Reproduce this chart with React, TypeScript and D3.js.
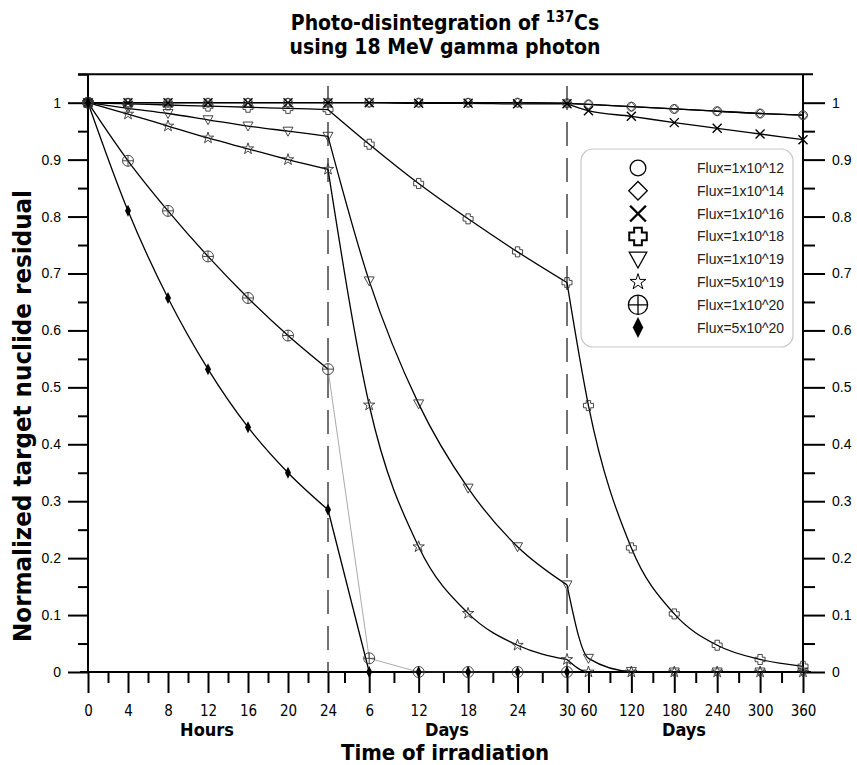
import React, { useRef, useEffect } from "react";
import * as d3 from "d3";

// x positions of the three axis pieces
const hourTicks = [0, 4, 8, 12, 16, 20, 24];
const dayTicks = [6, 12, 18, 24, 30];
const longDayTicks = [60, 120, 180, 240, 300, 360];
const hourMinor = [2, 6, 10, 14, 18, 22];
const dayMinor = [3, 9, 15, 21, 27];
const longDayMinor = [90, 150, 210, 270, 330];

const yMajor = [0, 0.1, 0.2, 0.3, 0.4, 0.5, 0.6, 0.7, 0.8, 0.9, 1];
const yMinor = [0.05, 0.15, 0.25, 0.35, 0.45, 0.55, 0.65, 0.75, 0.85, 0.95, 1.05];

const seriesNames = [
  "Flux=1x10^12",
  "Flux=1x10^14",
  "Flux=1x10^16",
  "Flux=1x10^18",
  "Flux=1x10^19",
  "Flux=5x10^19",
  "Flux=1x10^20",
  "Flux=5x10^20",
];
const symbols = ["circle", "diamond", "x", "cross", "triangle", "star", "circleplus", "filled"];

// values: hours 0..24, days 6..30, days 60..360
const f12Hours = [1, 1, 1, 1, 1, 1, 1];
const f12Days = [1, 1, 1, 1, 0.999];
const f12Long = [0.997, 0.993, 0.989, 0.985, 0.981, 0.978];

const f14Hours = [1, 1, 1, 1, 1, 1, 1];
const f14Days = [1, 1, 1, 1, 0.999];
const f14Long = [0.997, 0.993, 0.989, 0.985, 0.981, 0.978];

const f16Hours = [1, 1, 1, 1, 1, 1, 1];
const f16Days = [1, 0.999, 0.999, 0.998, 0.998];
const f16Long = [0.986, 0.976, 0.965, 0.955, 0.945, 0.935];

const f18Hours = [1, 0.998, 0.996, 0.994, 0.992, 0.99, 0.988];
const f18Days = [0.927, 0.858, 0.796, 0.738, 0.684];
const f18Long = [0.468, 0.218, 0.102, 0.047, 0.022, 0.01];

const f19Hours = [1, 0.99, 0.981, 0.97, 0.959, 0.95, 0.941];
const f19Days = [0.687, 0.471, 0.323, 0.22, 0.153];
const f19Long = [0.024, 0.001, 0, 0, 0, 0];

const f5e19Hours = [1, 0.98, 0.959, 0.938, 0.919, 0.9, 0.883];
const f5e19Days = [0.469, 0.22, 0.103, 0.047, 0.022];
const f5e19Long = [0, 0, 0, 0, 0, 0];

const f20Hours = [1, 0.898, 0.81, 0.73, 0.657, 0.591, 0.532];
const f20Days = [0.024, 0, 0, 0, 0];

const f5e20Hours = [1, 0.81, 0.657, 0.532, 0.43, 0.35, 0.285];
const f5e20Days = [0, 0, 0, 0, 0];

const allHours = [f12Hours, f14Hours, f16Hours, f18Hours, f19Hours, f5e19Hours, f20Hours, f5e20Hours];
const allDays = [f12Days, f14Days, f16Days, f18Days, f19Days, f5e19Days, f20Days, f5e20Days];
const allLong = [f12Long, f14Long, f16Long, f18Long, f19Long, f5e19Long, null, null];

const hourLabel = (t) => {
  if (t <= 24) return String(t);
  return String(t / 24);
};

const markerPath = (sym, s) => {
  switch (sym) {
    case "diamond":
      return `M0,${-4.6 * s}L${4.6 * s},0L0,${4.6 * s}L${-4.6 * s},0Z`;
    case "x":
      return `M${-4.5 * s},${-4.5 * s}L${4.5 * s},${4.5 * s}M${-4.5 * s},${4.5 * s}L${4.5 * s},${-4.5 * s}`;
    case "cross": {
      const a = 5 * s, w = 2.2 * s;
      return `M${-w},${-a}L${w},${-a}L${w},${-w}L${a},${-w}L${a},${w}L${w},${w}L${w},${a}L${-w},${a}L${-w},${w}L${-a},${w}L${-a},${-w}L${-w},${-w}Z`;
    }
    case "triangle":
      return `M${-5 * s},${-4 * s}L${5 * s},${-4 * s}L0,${5 * s}Z`;
    case "star":
      return d3.symbol(d3.symbolStar, 40 * s * s)();
    case "filled":
      return `M0,${-6 * s}L${3 * s},0L0,${6 * s}L${-3 * s},0Z`;
    default:
      return "";
  }
};

const drawMarker = (g, sym, cx, cy, s, big) => {
  const m = g.append("g").attr("transform", `translate(${cx},${cy})`);
  const stroke = big ? "#000" : "#333";
  const sw = big ? 1.3 : 0.9;
  if (sym === "circle") {
    m.append("circle").attr("r", 4.5 * s).attr("fill", "none").attr("stroke", stroke).attr("stroke-width", sw);
  } else if (sym === "circleplus") {
    const r = 5.5 * s;
    m.append("circle").attr("r", r).attr("fill", "none").attr("stroke", stroke).attr("stroke-width", sw);
    m.append("path")
      .attr("d", `M${-r},0L${r},0M0,${-r}L0,${r}`)
      .attr("stroke", stroke)
      .attr("stroke-width", sw);
  } else if (sym === "filled") {
    m.append("path").attr("d", markerPath(sym, s)).attr("fill", "#000");
  } else if (sym === "x") {
    m.append("path").attr("d", markerPath(sym, s)).attr("stroke", "#000").attr("stroke-width", big ? 2.4 : 1.4);
  } else if (sym === "diamond" && big) {
    m.append("path").attr("d", markerPath(sym, s * 1.15)).attr("fill", "none").attr("stroke", stroke).attr("stroke-width", sw);
  } else if (sym === "star" && big) {
    m.append("path").attr("d", markerPath(sym, s * 0.8)).attr("fill", "none").attr("stroke", stroke).attr("stroke-width", 1);
  } else {
    m.append("path")
      .attr("d", markerPath(sym, s))
      .attr("fill", "none")
      .attr("stroke", stroke)
      .attr("stroke-width", sym === "cross" && big ? 2 : sw);
  }
};

const App = () => {
  const ref = useRef();
  const width = 857;
  const height = 765;

  useEffect(() => {
    const svg = d3.select(ref.current);
    svg.selectAll("*").remove();

    // piecewise time axis in hours
    const x = d3.scaleLinear().domain([0, 24, 720, 8640]).range([88, 328, 567, 803]);
    const y = d3.scaleLinear().domain([0, 1]).range([672, 102.7]);

    const majorT = [...hourTicks, ...dayTicks.map((d) => d * 24), ...longDayTicks.map((d) => d * 24)];
    const minorT = [...hourMinor, ...dayMinor.map((d) => d * 24), ...longDayMinor.map((d) => d * 24)];

    const font = "'Liberation Sans', Arial, sans-serif";
    const narrow = "'Liberation Sans Narrow', 'Arial Narrow', 'DejaVu Sans Condensed', sans-serif";

    // title
    const title = svg
      .append("text")
      .attr("x", 445)
      .attr("y", 30)
      .attr("text-anchor", "middle")
      .attr("font-family", narrow)
      .attr("font-weight", "bold")
      .attr("font-size", 21);
    title.append("tspan").text("Photo-disintegration of ");
    title.append("tspan").attr("font-size", 15).attr("dy", -8).text("137");
    title.append("tspan").attr("dy", 8).text("Cs");
    svg
      .append("text")
      .attr("x", 445)
      .attr("y", 54)
      .attr("text-anchor", "middle")
      .attr("font-family", narrow)
      .attr("font-weight", "bold")
      .attr("font-size", 21)
      .text("using 18 MeV gamma photon");

    // frame lines
    svg.append("line").attr("x1", 78).attr("x2", 813).attr("y1", y(1.05)).attr("y2", y(1.05))
      .attr("stroke", "#000").attr("stroke-width", 2);
    svg.append("line").attr("x1", 88).attr("x2", 88).attr("y1", y(1.05)).attr("y2", y(0))
      .attr("stroke", "#000").attr("stroke-width", 2);
    svg.append("line").attr("x1", 803).attr("x2", 803).attr("y1", y(1.05)).attr("y2", y(0))
      .attr("stroke", "#000").attr("stroke-width", 2);
    svg.append("line").attr("x1", 80).attr("x2", 811).attr("y1", y(0)).attr("y2", y(0))
      .attr("stroke", "#000").attr("stroke-width", 2);

    // y axes
    const styleAxis = (g) => {
      g.select(".domain").remove();
      g.selectAll(".tick line").attr("stroke", "#000").attr("stroke-width", 2);
      g.selectAll(".tick text").attr("font-family", font).attr("font-size", 14).attr("fill", "#000");
    };
    svg.append("g").attr("transform", "translate(88,0)")
      .call(d3.axisLeft(y).tickValues(yMajor).tickSize(20).tickPadding(7).tickFormat(d3.format("~g")))
      .call(styleAxis);
    svg.append("g").attr("transform", "translate(88,0)")
      .call(d3.axisLeft(y).tickValues(yMinor).tickSize(10).tickFormat(""))
      .call(styleAxis);
    svg.append("g").attr("transform", "translate(803,0)")
      .call(d3.axisRight(y).tickValues(yMajor).tickSize(22).tickPadding(7).tickFormat(d3.format("~g")))
      .call(styleAxis);
    svg.append("g").attr("transform", "translate(803,0)")
      .call(d3.axisRight(y).tickValues(yMinor.slice(0, -1)).tickSize(12).tickFormat(""))
      .call(styleAxis);

    // x axis
    svg.append("g").attr("transform", `translate(0,${y(0)})`)
      .call(d3.axisBottom(x).tickValues(majorT).tickSize(21).tickPadding(12).tickFormat(hourLabel))
      .call(styleAxis)
      .call((g) => g.selectAll(".tick text").attr("font-family", narrow).attr("font-size", 15));
    svg.append("g").attr("transform", `translate(0,${y(0)})`)
      .call(d3.axisBottom(x).tickValues(minorT).tickSize(11).tickFormat(""))
      .call(styleAxis);

    // dashed separators at 24 h and 30 d
    [24, 720].forEach((t) => {
      svg.append("line").attr("x1", x(t)).attr("x2", x(t)).attr("y1", 86).attr("y2", y(0))
        .attr("stroke", "#444").attr("stroke-width", 1.5).attr("stroke-dasharray", "24,12");
    });

    // axis titles
    const bold = (txt, cx, cy, size) =>
      svg.append("text").attr("x", cx).attr("y", cy).attr("text-anchor", "middle")
        .attr("font-family", narrow).attr("font-weight", "bold").attr("font-size", size).text(txt);
    bold("Hours", 207, 736, 18);
    bold("Days", 447, 736, 18);
    bold("Days", 684, 736, 18);
    bold("Time of irradiation", 445, 760, 22);
    svg.append("text")
      .attr("transform", "translate(31,416) rotate(-90)")
      .attr("text-anchor", "middle")
      .attr("font-family", narrow)
      .attr("font-weight", "bold")
      .attr("font-size", 24)
      .attr("textLength", 452)
      .attr("lengthAdjust", "spacingAndGlyphs")
      .text("Normalized target nuclide residual");

    // series lines
    const lineSmooth = d3.line().x((d) => x(d[0])).y((d) => y(d[1])).curve(d3.curveMonotoneX);
    const lineStraight = d3.line().x((d) => x(d[0])).y((d) => y(d[1]));

    const pointsOf = (i) => {
      const h = hourTicks.map((t, k) => [t, allHours[i][k]]);
      const d = dayTicks.map((t, k) => [t * 24, allDays[i][k]]);
      const l = allLong[i] ? longDayTicks.map((t, k) => [t * 24, allLong[i][k]]) : [];
      return { h, d, l };
    };

    const lines = svg.append("g");
    const marks = svg.append("g");
    seriesNames.forEach((name, i) => {
      const { h, d, l } = pointsOf(i);
      lines.append("path").attr("d", lineSmooth(h)).attr("fill", "none").attr("stroke", "#000").attr("stroke-width", 1.3);
      const seg2 = [h[h.length - 1], ...d];
      if (i === 6) {
        lines.append("path").attr("d", lineStraight(seg2)).attr("fill", "none").attr("stroke", "#aaa").attr("stroke-width", 1);
      } else if (i === 7) {
        lines.append("path").attr("d", lineStraight(seg2)).attr("fill", "none").attr("stroke", "#000").attr("stroke-width", 1.3);
      } else {
        lines.append("path").attr("d", lineSmooth(seg2)).attr("fill", "none").attr("stroke", "#000").attr("stroke-width", 1.3);
      }
      if (l.length) {
        const seg3 = [d[d.length - 1], ...l];
        lines.append("path").attr("d", lineSmooth(seg3)).attr("fill", "none").attr("stroke", "#000").attr("stroke-width", 1.3);
      }
      [...h, ...d, ...l].forEach((p) => drawMarker(marks, symbols[i], x(p[0]), y(p[1]), 1, false));
    });

    // legend
    const lg = svg.append("g");
    lg.append("rect").attr("x", 581).attr("y", 149).attr("width", 212).attr("height", 198).attr("rx", 12)
      .attr("fill", "#fff").attr("stroke", "#c8c8c8").attr("stroke-width", 1.2);
    seriesNames.forEach((name, i) => {
      const cy = 168 + i * 22.8;
      drawMarker(lg, symbols[i], 638, cy, 1.75, true);
      lg.append("text").attr("x", 697).attr("y", cy).attr("dy", "0.35em")
        .attr("font-family", font).attr("font-size", 14).attr("fill", "#222").text(name);
    });
  }, []);

  return <svg ref={ref} width={width} height={height} style={{ position: "absolute", left: 0, top: 0, background: "#fff" }} />;
};

export default App;
